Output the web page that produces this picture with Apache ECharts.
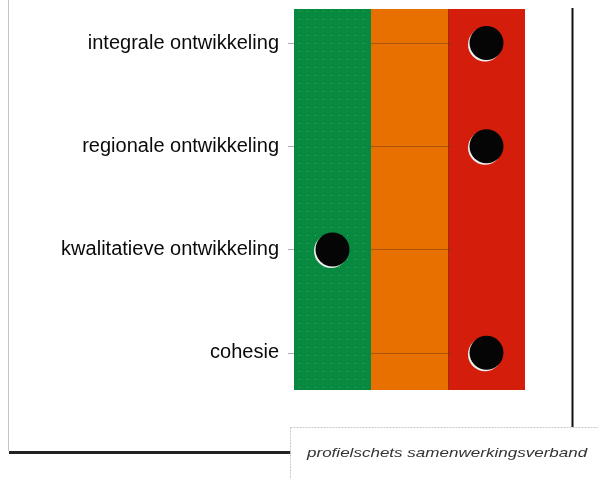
<!DOCTYPE html>
<html>
<head>
<meta charset="utf-8">
<script src="https://cdn.jsdelivr.net/npm/echarts@6/dist/echarts.min.js"></script>
<style>html,body{margin:0;padding:0;background:#fff;}#c{width:598px;height:479px;}</style>
</head>
<body>
<div id="c"></div>
<script>
// Data
const categories = ['integrale ontwikkeling', 'regionale ontwikkeling', 'kwalitatieve ontwikkeling', 'cohesie'];
const scores = [2.5, 2.5, 0.5, 2.5]; // position on 0-3 scale (band centres)
const bandNames = ['groen', 'oranje', 'rood'];
const bandStarts = [0, 1, 2];
const bandEnds = [1, 2, 3];
const footerText = 'profielschets samenwerkingsverband';

// green dotted pattern
const pc = document.createElement('canvas');
pc.width = 8; pc.height = 8;
const pctx = pc.getContext('2d');
pctx.fillStyle = '#07893f'; pctx.fillRect(0, 0, 8, 8);
pctx.fillStyle = '#4aa874'; pctx.fillRect(3, 3, 1, 1);

const bandColors = [{image: pc, repeat: 'repeat'}, '#e87000', '#d41e0b'];

const chart = echarts.init(document.getElementById('c'), null, {renderer: 'canvas'});
const option = {
  animation: false,
  grid: {left: 294, right: 73, top: 9, bottom: 89},
  xAxis: {type: 'value', min: 0, max: 3, show: false},
  yAxis: {
    type: 'value', inverse: true, min: -0.33, max: 3.36,
    axisLine: {show: false},
    splitLine: {show: false},
    axisTick: {show: true, length: 6, lineStyle: {color: '#aaa'}, customValues: [0, 1, 2, 3]},
    axisLabel: {
      customValues: [0, 1, 2, 3], margin: 15,
      formatter: v => categories[Math.round(v)],
      color: '#0a0a0a', fontFamily: 'Liberation Sans', fontSize: 20
    }
  },
  series: [{
    type: 'scatter',
    data: scores.map((s, i) => [s, i]),
    symbolSize: 34,
    z: 5,
    itemStyle: {color: '#050505', shadowColor: '#f0f0f0', shadowOffsetX: -1.5, shadowOffsetY: 1.5, shadowBlur: 0, opacity: 1},
    markArea: {
      silent: true,
      data: bandStarts.map((s, i) => [
        {name: bandNames[i], xAxis: s, itemStyle: {color: bandColors[i], opacity: 1}},
        {xAxis: bandEnds[i]}
      ]),
      label: {show: false}
    },
    markLine: {
      silent: true, symbol: 'none', label: {show: false},
      lineStyle: {color: 'rgba(110,55,10,0.5)', width: 1, type: 'solid'},
      data: categories.map((c, i) => [{coord: [1, i]}, {coord: [2.05, i]}])
        .concat([[{coord: [2, -0.33]}, {coord: [2, 3.36]}]])
    }
  }],
  graphic: [
    {type: 'line', shape: {x1: 8.5, y1: 0, x2: 8.5, y2: 451}, style: {stroke: '#c4c4c4', lineWidth: 1}},
    {type: 'line', shape: {x1: 9, y1: 452.5, x2: 291, y2: 452.5}, style: {stroke: '#222', lineWidth: 3}},
    {type: 'line', shape: {x1: 572.5, y1: 8, x2: 572.5, y2: 427}, style: {stroke: '#111', lineWidth: 2}},
    {type: 'rect', shape: {x: 290.5, y: 427.5, width: 320, height: 80}, style: {fill: '#fff', stroke: '#c8c8c8', lineWidth: 1, lineDash: [2, 1]}},
    {type: 'text', x: 307, y: 453, scaleX: 1.31, style: {text: footerText, font: 'italic 13px Liberation Sans', fill: '#333', textVerticalAlign: 'middle'}}
  ]
};
chart.setOption(option);
</script>
</body>
</html>
